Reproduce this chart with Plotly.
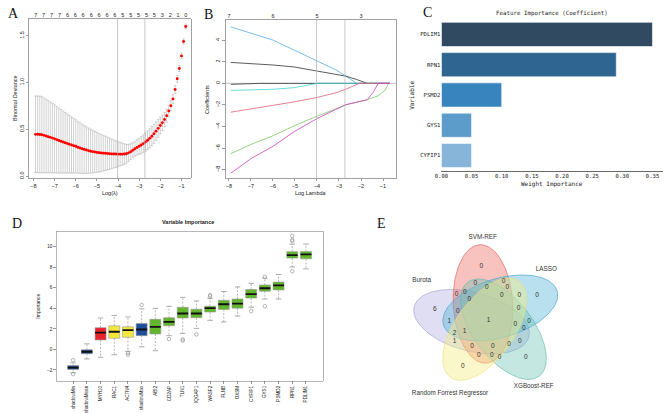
import numpy as np
import plotly.graph_objects as go

W, H = 669, 413

# ---------------- Panel A : cv.glmnet curve ----------------
a_loglam = [-7.9, -7.8, -7.7, -7.6, -7.5, -7.4, -7.3, -7.2, -7.1, -7.0,
            -6.9, -6.8, -6.7, -6.6, -6.5, -6.4, -6.3, -6.2, -6.1, -6.0,
            -5.9, -5.8, -5.7, -5.6, -5.5, -5.4, -5.3, -5.2, -5.1, -5.0,
            -4.9, -4.8, -4.7, -4.6, -4.5, -4.4, -4.3, -4.2, -4.1, -4.0,
            -3.9, -3.8, -3.7, -3.6, -3.5, -3.4, -3.3, -3.2, -3.1, -3.0,
            -2.9, -2.8, -2.7, -2.6, -2.5, -2.4, -2.3, -2.2, -2.1, -2.0,
            -1.9, -1.8, -1.7, -1.6, -1.5, -1.4, -1.3, -1.2, -1.1, -1.0,
            -0.9, -0.8]
a_mean = [.446, .447, .445, .441, .435, .428, .421, .414, .406, .398,
          .389, .380, .372, .364, .356, .348, .340, .332, .325, .318,
          .308, .300, .292, .285, .278, .272, .266, .261, .257, .253,
          .250, .247, .245, .243, .241, .239, .237, .236, .235, .234,
          .234, .234, .235, .238, .248, .260, .276, .292, .306, .319,
          .332, .347, .364, .383, .403, .426, .452, .480, .510, .540,
          .570, .604, .645, .695, .752, .825, .925, 1.040, 1.150, 1.285,
          1.440, 1.600]
a_se = [.410, .410, .410, .408, .400, .393, .386, .379, .372, .364,
        .356, .348, .340, .332, .324, .316, .308, .300, .292, .284,
        .277, .270, .263, .256, .249, .242, .235, .228, .221, .214,
        .207, .199, .191, .183, .175, .167, .159, .150, .142, .134,
        .126, .118, .110, .100, .092, .085, .080, .079, .082, .086,
        .090, .094, .098, .100, .102, .103, .102, .099, .095, .090,
        .084, .077, .070, .062, .055, .048, .042, .037, .033, .030,
        .028, .026]
a_top_pos = [-7.89, -7.52, -7.14, -6.77, -6.39, -6.02, -5.65, -5.27, -4.90, -4.52,
             -4.15, -3.78, -3.40, -3.03, -2.65, -2.28, -1.91, -1.53, -1.16, -0.79]
a_top_df = ["7", "7", "7", "7", "6", "6", "6", "6", "6", "6",
            "6", "5", "5", "5", "5", "5", "3", "2", "1", "0"]
lambda_min, lambda_1se = -4.02, -2.73

# ---------------- Panel B : coefficient paths ----------------
b_blue_x = [-7.92, -6.99, -5.99, -5.04, -3.98, -3.10, -2.69, -2.20, -0.69]
b_blue_y = [5.24, 4.64, 4.00, 3.09, 2.06, 1.21, 0.67, 0.0, 0.0]
b_black_x = [-7.92, -6.99, -5.99, -5.04, -3.98, -3.10, -2.69, -2.20, -1.72, -0.69]
b_black_y = [1.94, 1.85, 1.70, 1.52, 1.12, 0.82, 0.67, 0.36, 0.0, 0.0]
b_small_x = [-7.92, -7.30, -6.60, -0.69]
b_small_y = [-0.09, -0.05, 0.0, 0.0]
b_cyan_x = [-7.92, -6.99, -5.99, -5.04, -4.50, -3.98, -0.69]
b_cyan_y = [-0.65, -0.62, -0.55, -0.40, -0.22, 0.0, 0.0]
b_pink_x = [-7.92, -6.99, -5.99, -5.04, -3.98, -3.10, -2.69, -2.08, -0.69]
b_pink_y = [-2.67, -2.38, -2.06, -1.72, -1.30, -0.85, -0.55, 0.0, 0.0]
b_green_x = [-7.92, -6.99, -5.99, -5.04, -3.98, -3.10, -2.69, -2.20, -1.72, -1.22, -0.92, -0.74, -0.69]
b_green_y = [-6.52, -5.65, -4.85, -3.94, -3.03, -2.30, -2.00, -1.75, -1.52, -1.15, -0.67, 0.0, 0.0]
b_mag_x = [-7.92, -6.99, -5.99, -5.04, -3.98, -3.10, -2.69, -2.20, -1.72, -1.45, -1.22, -0.69]
b_mag_y = [-8.33, -6.97, -5.82, -4.48, -3.24, -2.35, -1.97, -1.75, -1.52, -0.85, 0.0, 0.0]
b_top_pos = [-8, -6, -4, -2]
b_top_df = ["7", "6", "5", "3"]

# ---------------- Panel C : feature importance ----------------
c_vars = ["PDLIM1", "RPN1", "PSMD2", "GYS1", "CYFIP1"]
c_weight = [0.35, 0.29, 0.10, 0.05, 0.05]
c_colors = ["#304b61", "#2f6691", "#3784bf", "#5c9ccb", "#86b5d9"]
c_ticks = [0.00, 0.05, 0.10, 0.15, 0.20, 0.25, 0.30, 0.35]

# ---------------- Panel D : Boruta importance ----------------
d_names = ["shadowMin", "shadowMean", "MYH10", "RAC1", "ACTN4", "shadowMax", "ABI2",
           "CD2AP", "TLN1", "IQGAP1", "WASF2", "FLNB", "OXSM", "CYFIP1", "GYS1",
           "PSMD2", "RPN1", "PDLIM1"]
d_status = ["shadow", "shadow", "Rejected", "Tentative", "Tentative", "shadow", "Confirmed",
            "Confirmed", "Confirmed", "Confirmed", "Confirmed", "Confirmed", "Confirmed",
            "Confirmed", "Confirmed", "Confirmed", "Confirmed", "Confirmed"]
d_q1 = [-1.95, -0.42, 0.92, 1.08, 1.18, 1.34, 1.50, 2.30, 3.06, 3.09, 3.64, 3.89, 4.02,
        5.00, 5.67, 5.80, 8.90, 8.83]
d_med = [-1.77, -0.23, 1.63, 1.72, 1.88, 1.94, 2.20, 2.68, 3.50, 3.50, 4.02, 4.40, 4.46,
         5.39, 5.96, 6.25, 9.19, 9.26]
d_q3 = [-1.57, -0.04, 2.12, 2.30, 2.20, 2.52, 2.93, 3.09, 4.11, 3.92, 4.21, 4.78, 4.91,
        5.84, 6.28, 6.56, 9.53, 9.55]
d_lo = [-2.27, -0.93, -0.77, -0.52, -0.19, 0.25, -0.13, 1.34, 1.56, 2.05, 2.83, 2.68, 3.25,
        4.11, 4.91, 4.91, 8.04, 7.85]
d_hi = [-1.31, 0.54, 3.06, 3.31, 3.16, 3.95, 4.00, 4.20, 5.07, 4.72, 4.98, 5.64, 6.09,
        6.44, 6.95, 7.30, 10.27, 10.27]
d_out_idx = [1, 1, 5, 5, 6, 8, 9, 9, 10, 11, 11, 14, 15, 15, 17, 17, 17, 17]
d_out_val = [-1.05, -2.42, -0.35, -0.52, 4.33, 1.00, 0.98, 0.86, 1.46, 5.29, 5.17,
             3.73, 7.07, 4.21, 11.06, 10.68, 10.58, 7.62]
d_status_color = {"shadow": "#1f4e9c", "Rejected": "#e8232a",
                  "Tentative": "#f3e73d", "Confirmed": "#62b52c"}

# ---------------- Panel E : 5-set Venn ----------------
e_sets = ["Burota", "SVM-REF", "LASSO", "XGBoost-REF", "Random Forrest Regressor"]
e_counts = ["0", "0", "0", "0", "0", "0", "0", "0", "0", "0", "0", "6", "0", "0", "1", "1",
            "0", "0", "0", "2", "1", "1", "0", "0", "0", "0", "0", "0", "0", "0", "0"]
# layout: label positions (pixels) for each region count
e_count_pos = [(479.3, 271.7), (473.3, 289), (485, 292.7), (501.7, 287.3), (505.7, 293.3),
               (454.3, 300), (462.7, 297.7), (467.3, 305.3), (500, 301), (517.7, 301),
               (535.7, 301.7), (432.3, 316), (455.7, 317.3), (517, 314), (447, 327.3),
               (486.7, 326.3), (513.7, 330.7), (527.7, 327.3), (522.3, 335), (452.3, 340),
               (462.3, 338), (452.3, 348.3), (470, 353.7), (491, 353.3), (507.3, 350.7),
               (518.3, 347.7), (476.7, 362.7), (490, 362.3), (497.7, 364.7), (524.3, 364.3),
               (460.7, 374)]
# layout: ellipse geometry (cx, cy, semi-major, semi-minor, angle deg) in pixels
e_geom = [(469.5, 328, 60, 30, 165), (481, 310, 60.5, 30, 93), (498.5, 314, 60, 30, 17),
          (501.7, 335.7, 60, 30, 127), (482.7, 335.7, 60, 30, 55)]
e_fill = ["rgba(160,155,215,0.33)", "rgba(238,110,100,0.42)", "rgba(85,180,215,0.42)",
          "rgba(110,195,180,0.40)", "rgba(245,238,140,0.45)"]
e_line = ["rgba(150,145,210,0.7)", "rgba(228,100,90,0.85)", "rgba(70,165,205,0.85)",
          "rgba(95,185,170,0.8)", "rgba(235,225,120,0.8)"]
e_name_pos = [(419, 286), (480.8, 242.5), (545, 275), (532.3, 394), (447.7, 401)]


def xd(x0, x1):
    return [x0 / W, x1 / W]


def yd(y0, y1):
    return [1 - y1 / H, 1 - y0 / H]


SANS = "Liberation Sans"
MONO = "DejaVu Sans Mono"

fig = go.Figure()

# ---- A ----
fig.add_trace(go.Scatter(
    x=a_loglam, y=a_mean, mode="markers",
    marker=dict(color="red", size=2.9),
    error_y=dict(type="data", array=a_se, color="#b4b4b4", thickness=0.6, width=1.3),
    xaxis="x", yaxis="y", hoverinfo="skip"))
fig.add_trace(go.Scatter(x=a_top_pos, y=[0] * len(a_top_pos), mode="markers",
                         marker=dict(opacity=0), xaxis="x2", yaxis="y", hoverinfo="skip"))

# ---- B ----
b_lines = [(b_blue_x, b_blue_y, "#55aee6"), (b_black_x, b_black_y, "#333333"),
           (b_small_x, b_small_y, "#333333"), (b_cyan_x, b_cyan_y, "#3cd6d6"),
           (b_pink_x, b_pink_y, "#e0607a"), (b_green_x, b_green_y, "#78cc62"),
           (b_mag_x, b_mag_y, "#cf3fbf")]
for xs, ys, col in b_lines:
    fig.add_trace(go.Scatter(x=xs, y=ys, mode="lines", line=dict(color=col, width=0.8),
                             xaxis="x3", yaxis="y3", hoverinfo="skip"))
fig.add_trace(go.Scatter(x=b_top_pos, y=[0] * 4, mode="markers", marker=dict(opacity=0),
                         xaxis="x4", yaxis="y3", hoverinfo="skip"))

# ---- C ----
fig.add_trace(go.Bar(x=c_weight, y=c_vars, orientation="h", width=0.8,
                     marker=dict(color=c_colors, line=dict(color="white", width=0.6)),
                     xaxis="x5", yaxis="y5", hoverinfo="skip"))

# ---- D ----
d_pos = list(range(1, len(d_names) + 1))
d_cols = [d_status_color[s] for s in d_status]
fig.add_trace(go.Bar(x=d_pos, y=[b - a for a, b in zip(d_q1, d_q3)], base=d_q1, width=0.8,
                     marker=dict(color=d_cols, line=dict(color="#9a9a9a", width=0.6)),
                     xaxis="x6", yaxis="y6", hoverinfo="skip"))
wx, wy, cx, cy, mx, my = [], [], [], [], [], []
for p, q1, q3, lo, hi, md in zip(d_pos, d_q1, d_q3, d_lo, d_hi, d_med):
    wx += [p, p, None, p, p, None]
    wy += [q3, hi, None, q1, lo, None]
    cx += [p - 0.2, p + 0.2, None, p - 0.2, p + 0.2, None]
    cy += [hi, hi, None, lo, lo, None]
    mx += [p - 0.4, p + 0.4, None]
    my += [md, md, None]
fig.add_trace(go.Scatter(x=wx, y=wy, mode="lines", line=dict(color="#8a8a8a", width=0.6, dash="2px,1.5px"),
                         xaxis="x6", yaxis="y6", hoverinfo="skip"))
fig.add_trace(go.Scatter(x=cx, y=cy, mode="lines", line=dict(color="#8a8a8a", width=0.7),
                         xaxis="x6", yaxis="y6", hoverinfo="skip"))
fig.add_trace(go.Scatter(x=mx, y=my, mode="lines", line=dict(color="#111111", width=1.8),
                         xaxis="x6", yaxis="y6", hoverinfo="skip"))
fig.add_trace(go.Scatter(x=d_out_idx, y=d_out_val, mode="markers",
                         marker=dict(symbol="circle-open", size=3.5, color="#8a8a8a", line=dict(width=0.6)),
                         xaxis="x6", yaxis="y6", hoverinfo="skip"))

# ---- E ----
t = np.linspace(0, 2 * np.pi, 181)
for (ecx, ecy, ea, eb, ang), fc, lc in zip(e_geom, e_fill, e_line):
    ph = np.deg2rad(ang)
    X = ea * np.cos(t) * np.cos(ph) - eb * np.sin(t) * np.sin(ph)
    Y = ea * np.cos(t) * np.sin(ph) + eb * np.sin(t) * np.cos(ph)
    fig.add_trace(go.Scatter(x=ecx + X, y=ecy - Y, mode="lines", fill="toself",
                             fillcolor=fc, line=dict(color=lc, width=0.8),
                             xaxis="x7", yaxis="y7", hoverinfo="skip"))
fig.add_trace(go.Scatter(x=[p[0] for p in e_count_pos], y=[p[1] for p in e_count_pos],
                         text=e_counts, mode="text",
                         textfont=dict(family=SANS, size=6.5, color="#333333"),
                         xaxis="x7", yaxis="y7", hoverinfo="skip"))
fig.add_trace(go.Scatter(x=[p[0] for p in e_name_pos], y=[p[1] for p in e_name_pos],
                         text=e_sets, mode="text",
                         textfont=dict(family=SANS, size=6.3, color="#333333"),
                         xaxis="x7", yaxis="y7", hoverinfo="skip"))

# ---------------- axes ----------------
rfont = dict(family=SANS, size=5.5, color="#222222")
rbox = dict(showline=True, mirror=True, linecolor="#777777", linewidth=0.7,
            ticks="outside", ticklen=2.5, tickwidth=0.6, tickcolor="#555555",
            showgrid=False, zeroline=False, tickfont=rfont, fixedrange=True)

layout = dict(
    width=W, height=H, margin=dict(l=0, r=0, t=0, b=0),
    paper_bgcolor="white", plot_bgcolor="white", showlegend=False,
    font=dict(family=SANS, color="#222222"),
    # A
    xaxis=dict(domain=xd(22.3, 185.7), range=[-8.206, -0.560], anchor="y",
               tickvals=[-8, -7, -6, -5, -4, -3, -2, -1], **rbox),
    yaxis=dict(domain=yd(19, 181.7), range=[-0.023, 1.684], anchor="x",
               tickvals=[0, 0.5, 1.0, 1.5], ticktext=["0.0", "0.5", "1.0", "1.5"],
               tickangle=-90, **rbox),
    xaxis2=dict(overlaying="x", side="top", anchor="y", range=[-8.206, -0.560],
                tickvals=a_top_pos, ticktext=a_top_df, ticks="", showline=False,
                showgrid=False, zeroline=False, tickfont=rfont),
    # B
    xaxis3=dict(domain=xd(220.7, 393.3), range=[-8.162, -0.401], anchor="y3",
                tickvals=[-8, -7, -6, -5, -4, -3, -2, -1], **rbox),
    yaxis3=dict(domain=yd(20, 181.7), range=[-8.79, 5.91], anchor="x3",
                tickvals=[-8, -6, -4, -2, 0, 2, 4], tickangle=-90, **rbox),
    xaxis4=dict(overlaying="x3", side="top", anchor="y3", range=[-8.162, -0.401],
                tickvals=b_top_pos, ticktext=b_top_df, ticks="", showline=False,
                showgrid=False, zeroline=False, tickfont=rfont),
    # C
    xaxis5=dict(domain=xd(439, 663), range=[0, 0.3675], anchor="y5",
                tickvals=c_ticks, ticktext=["%.2f" % v for v in c_ticks],
                showline=True, linecolor="#444444", linewidth=0.8, ticks="",
                showgrid=False, zeroline=False,
                tickfont=dict(family=MONO, size=5.6, color="#222222")),
    yaxis5=dict(domain=yd(19.7, 174), range=[4.5, -0.5], anchor="x5", type="category",
                categoryorder="array", categoryarray=c_vars,
                showline=False, ticks="", showgrid=False, zeroline=False,
                tickfont=dict(family=MONO, size=5.6, color="#222222")),
    # D
    xaxis6=dict(domain=xd(50, 319), range=[-0.22, 19.22], anchor="y6",
                tickvals=d_pos, ticktext=d_names, tickangle=-90,
                **{**rbox, "linecolor": "#999999",
                   "tickfont": dict(family=SANS, size=4.6, color="#222222")}),
    yaxis6=dict(domain=yd(236, 388.3), range=[-3.06, 11.5], anchor="x6",
                tickvals=[-2, 0, 2, 4, 6, 8, 10],
                **{**rbox, "linecolor": "#999999",
                   "tickfont": dict(family=SANS, size=4.6, color="#222222")}),
    # E
    xaxis7=dict(domain=xd(400, 600), range=[400, 600], anchor="y7", visible=False,
                fixedrange=True),
    yaxis7=dict(domain=yd(235, 410), range=[410, 235], anchor="x7", visible=False,
                fixedrange=True),
)
fig.update_layout(**layout)

# lambda lines and zero line
shapes = []
for xv in [lambda_min, lambda_1se]:
    shapes.append(dict(type="line", xref="x", yref="y domain", x0=xv, x1=xv, y0=0, y1=1,
                       line=dict(color="#b0b0b0", width=0.7)))
    shapes.append(dict(type="line", xref="x3", yref="y3 domain", x0=xv, x1=xv, y0=0, y1=1,
                       line=dict(color="#b0b0b0", width=0.7)))
shapes.append(dict(type="line", xref="x3 domain", yref="y3", x0=0, x1=1, y0=0, y1=0,
                   line=dict(color="#b0b0b0", width=0.7), layer="below"))
fig.update_layout(shapes=shapes)


def ann(text, x, y, size, family=SANS, angle=0, color="#222222"):
    return dict(text=text, x=x / W, y=1 - y / H, xref="paper", yref="paper",
                showarrow=False, textangle=angle, xanchor="center", yanchor="middle",
                font=dict(family=family, size=size, color=color))


annotations = [
    ann("A", 7, 14, 14, "Liberation Serif", color="#111111"),
    ann("B", 204, 15, 14, "Liberation Serif", color="#111111"),
    ann("C", 425, 13, 14, "Liberation Serif", color="#111111"),
    ann("D", 10, 228, 14, "Liberation Serif", color="#111111"),
    ann("E", 378.5, 228, 14, "Liberation Serif", color="#111111"),
    ann("Binomial Deviance", 8, 100, 5.5, angle=-90),
    ann("Log(λ)", 104, 197, 5.5),
    ann("Coefficients", 202, 101, 5.5, angle=-90),
    ann("Log Lambda", 307, 197, 5.5),
    ann("Feature Importance (Coefficient)", 551, 14, 5.8, MONO),
    ann("Weight Importance", 551, 188, 6, MONO),
    ann("Variable", 408, 97, 6, MONO, angle=-90),
    ann("<b>Variable Importance</b>", 183, 226, 5.5),
    ann("Importance", 31, 312, 5, angle=-90),
]
fig.update_layout(annotations=annotations)

fig.write_html("out.html", config={"displayModeBar": False, "staticPlot": True},
               post_script="document.body.style.margin='0px';document.body.style.overflow='hidden';")
